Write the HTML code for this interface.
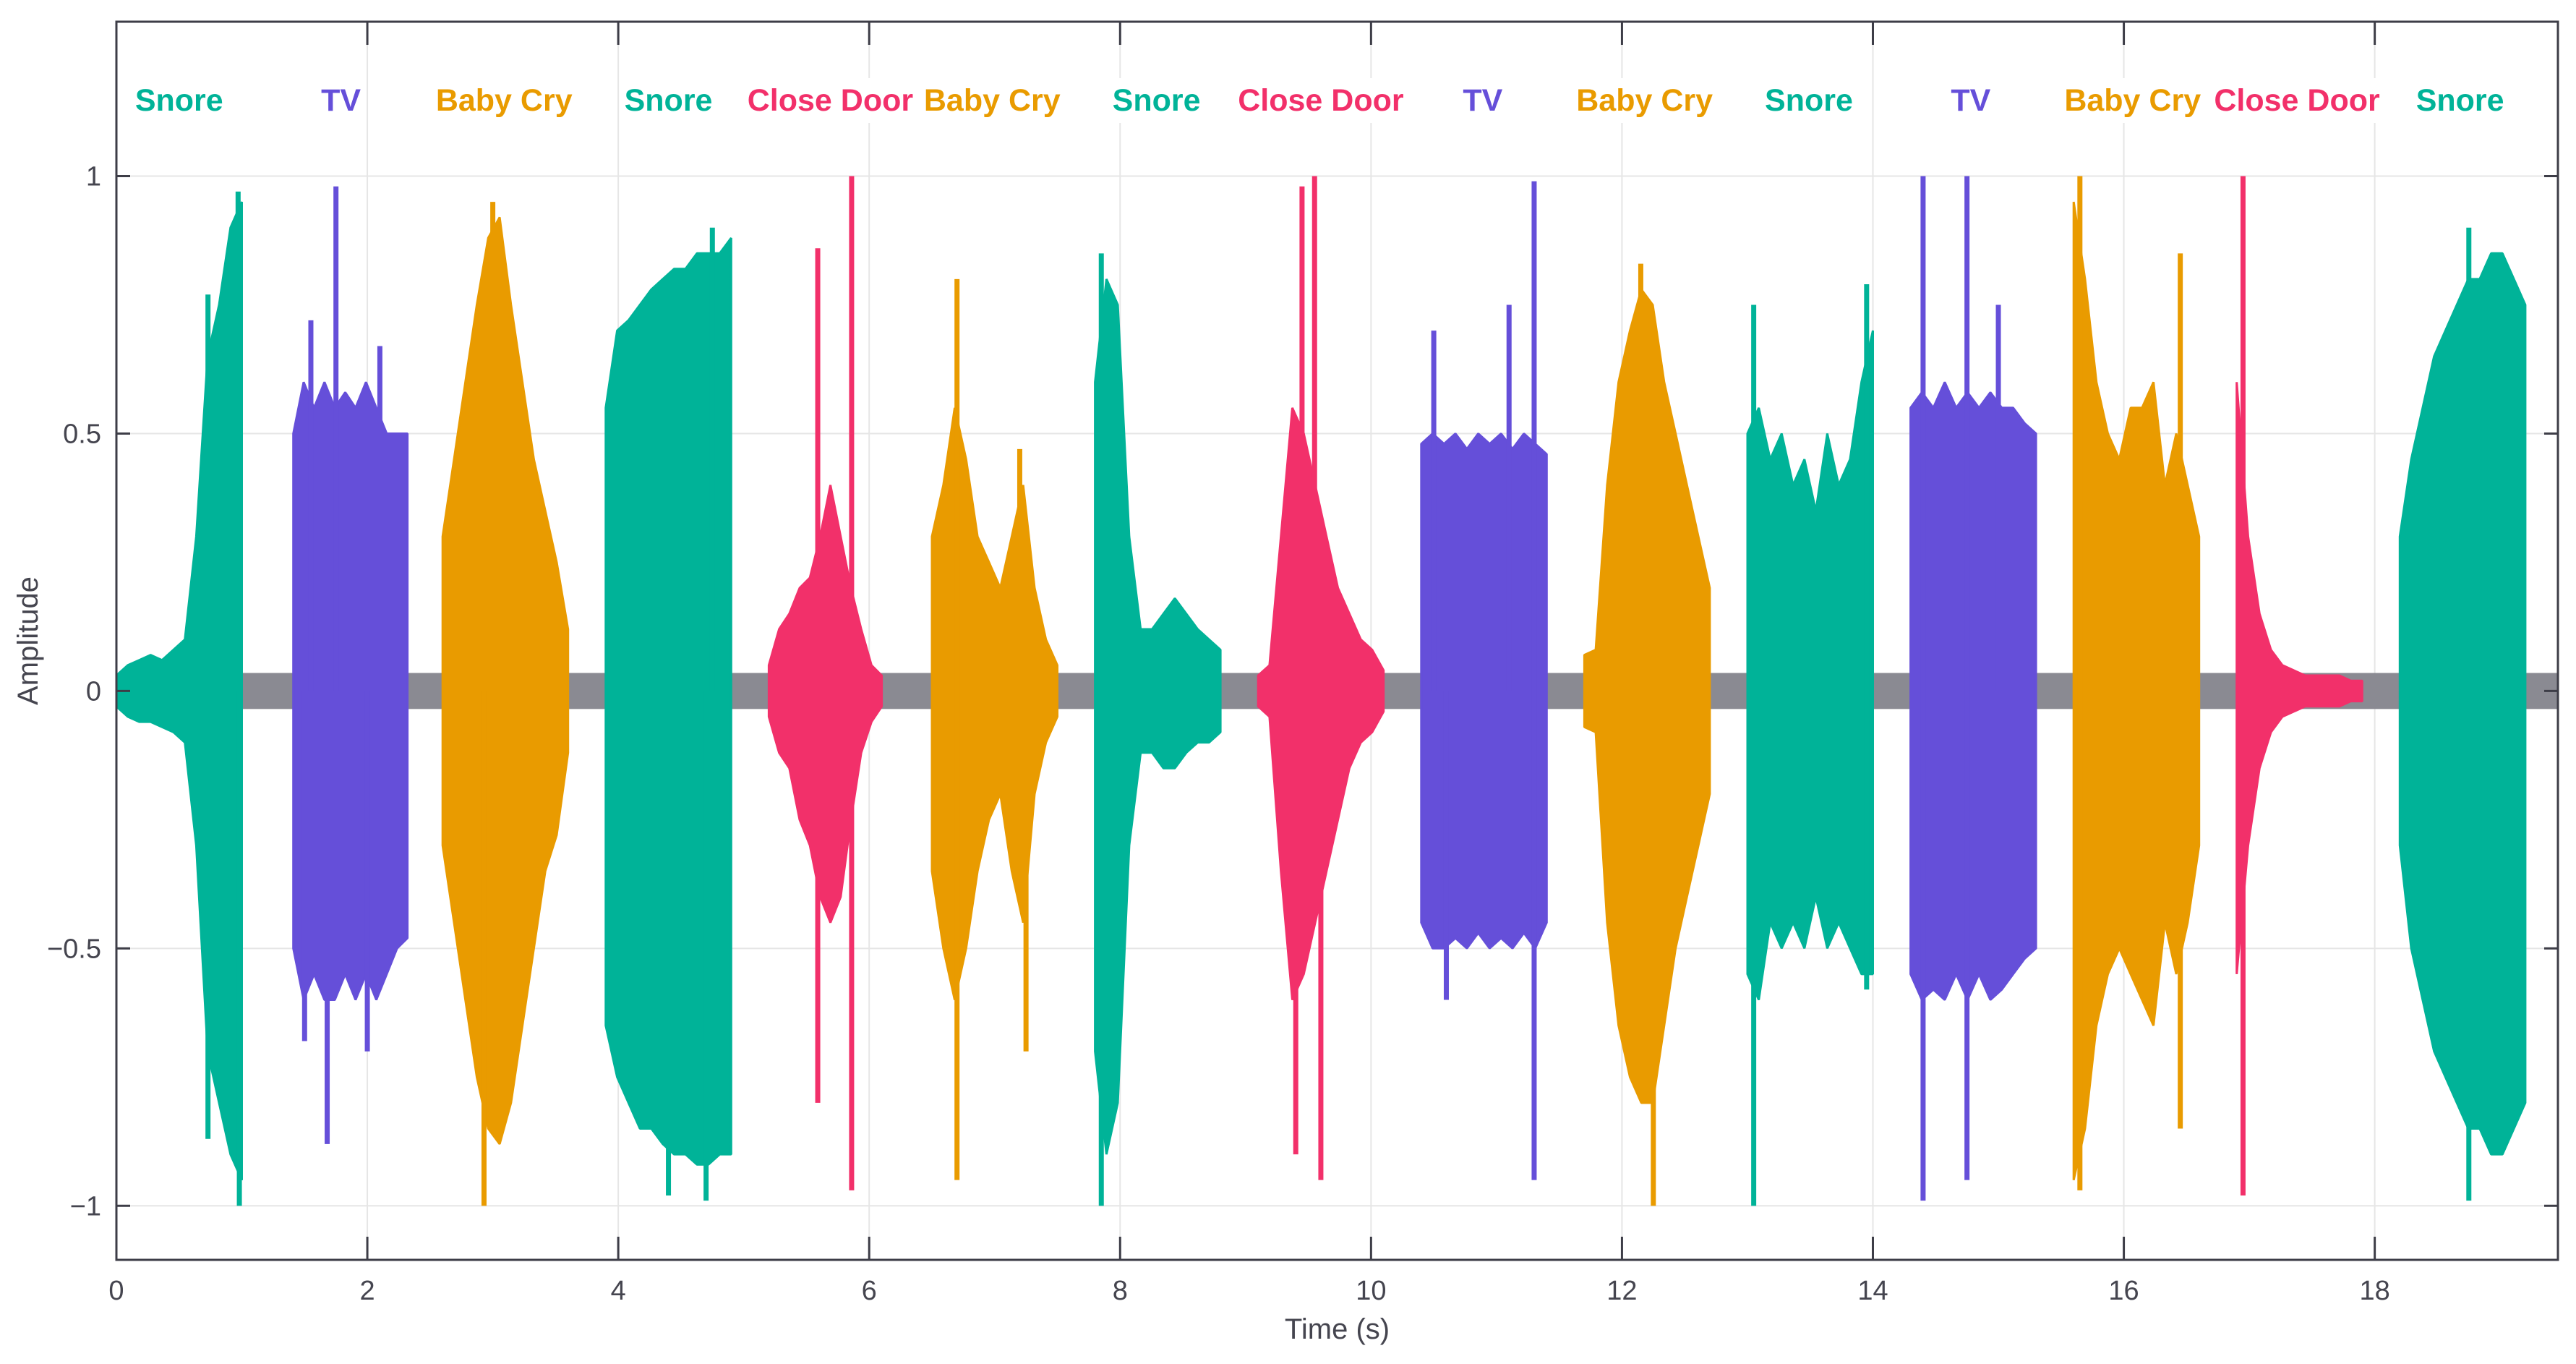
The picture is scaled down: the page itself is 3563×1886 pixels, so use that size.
<!DOCTYPE html>
<html><head><meta charset="utf-8"><style>
html,body{margin:0;padding:0;background:#fff}
svg{display:block}
text{font-family:"Liberation Sans",Arial,sans-serif}
</style></head><body>
<svg id="chart" width="3563" height="1886" viewBox="0 0 3563 1886" xmlns="http://www.w3.org/2000/svg">
<g id="grid"></g>
<g id="marks"></g>
<g id="labels"></g>
<g id="axes"></g>
</svg>
<script>
const xTicks = [0,2,4,6,8,10,12,14,16,18];
const yTicks = [-1,-0.5,0,0.5,1];
const yTickLabels = ["\u22121","\u22120.5","0","0.5","1"];
const segStarts = [0,1.41,2.6,3.9,5.2,6.5,7.8,9.1,10.4,11.7,13.0,14.3,15.6,16.9,18.2];
const segEnds = [1.0,2.32,3.6,4.9,6.1,7.5,8.8,10.1,11.4,12.7,14.0,15.3,16.6,17.9,19.2];
const segClasses = ["Snore","TV","Baby Cry","Snore","Close Door","Baby Cry","Snore","Close Door","TV","Baby Cry","Snore","TV","Baby Cry","Close Door","Snore"];
const labelTimes = [0.5,1.79,3.09,4.4,5.69,6.98,8.29,9.6,10.89,12.18,13.49,14.78,16.07,17.38,18.68];
const segUpper = [
 [0.03,0.05,0.06,0.07,0.06,0.08,0.1,0.3,0.65,0.75,0.9,0.95],
 [0.5,0.6,0.55,0.6,0.55,0.58,0.55,0.6,0.55,0.5,0.5,0.5],
 [0.3,0.45,0.6,0.75,0.88,0.92,0.75,0.6,0.45,0.35,0.25,0.12],
 [0.55,0.7,0.72,0.75,0.78,0.8,0.82,0.82,0.85,0.85,0.85,0.88],
 [0.05,0.12,0.15,0.2,0.22,0.3,0.4,0.3,0.2,0.12,0.05,0.03],
 [0.3,0.4,0.55,0.45,0.3,0.25,0.2,0.3,0.4,0.2,0.1,0.05],
 [0.6,0.8,0.75,0.3,0.12,0.12,0.15,0.18,0.15,0.12,0.1,0.08],
 [0.03,0.05,0.3,0.55,0.5,0.4,0.3,0.2,0.15,0.1,0.08,0.04],
 [0.48,0.5,0.48,0.5,0.47,0.5,0.48,0.5,0.47,0.5,0.48,0.46],
 [0.07,0.08,0.4,0.6,0.7,0.78,0.75,0.6,0.5,0.4,0.3,0.2],
 [0.5,0.55,0.45,0.5,0.4,0.45,0.35,0.5,0.4,0.45,0.6,0.7],
 [0.55,0.58,0.55,0.6,0.55,0.58,0.55,0.58,0.55,0.55,0.52,0.5],
 [0.95,0.8,0.6,0.5,0.45,0.55,0.55,0.6,0.4,0.5,0.4,0.3],
 [0.6,0.3,0.15,0.08,0.05,0.04,0.03,0.03,0.03,0.03,0.02,0.02],
 [0.3,0.45,0.55,0.65,0.7,0.75,0.8,0.8,0.85,0.85,0.8,0.75]
];
const segLower = [
 [-0.03,-0.05,-0.06,-0.06,-0.07,-0.08,-0.1,-0.3,-0.7,-0.8,-0.9,-0.95],
 [-0.5,-0.6,-0.55,-0.6,-0.6,-0.55,-0.6,-0.55,-0.6,-0.55,-0.5,-0.48],
 [-0.3,-0.45,-0.6,-0.75,-0.85,-0.88,-0.8,-0.65,-0.5,-0.35,-0.28,-0.12],
 [-0.65,-0.75,-0.8,-0.85,-0.85,-0.88,-0.9,-0.9,-0.92,-0.92,-0.9,-0.9],
 [-0.05,-0.12,-0.15,-0.25,-0.3,-0.4,-0.45,-0.4,-0.25,-0.12,-0.06,-0.03],
 [-0.35,-0.5,-0.6,-0.5,-0.35,-0.25,-0.2,-0.35,-0.45,-0.2,-0.1,-0.05],
 [-0.7,-0.9,-0.8,-0.3,-0.12,-0.12,-0.15,-0.15,-0.12,-0.1,-0.1,-0.08],
 [-0.03,-0.05,-0.35,-0.6,-0.55,-0.45,-0.35,-0.25,-0.15,-0.1,-0.08,-0.04],
 [-0.45,-0.5,-0.5,-0.48,-0.5,-0.47,-0.5,-0.48,-0.5,-0.47,-0.5,-0.45],
 [-0.07,-0.08,-0.45,-0.65,-0.75,-0.8,-0.8,-0.65,-0.5,-0.4,-0.3,-0.2],
 [-0.55,-0.6,-0.45,-0.5,-0.45,-0.5,-0.4,-0.5,-0.45,-0.5,-0.55,-0.55],
 [-0.55,-0.6,-0.58,-0.6,-0.55,-0.6,-0.55,-0.6,-0.58,-0.55,-0.52,-0.5],
 [-0.95,-0.85,-0.65,-0.55,-0.5,-0.55,-0.6,-0.65,-0.45,-0.55,-0.45,-0.3],
 [-0.55,-0.3,-0.15,-0.08,-0.05,-0.04,-0.03,-0.03,-0.03,-0.03,-0.02,-0.02],
 [-0.3,-0.5,-0.6,-0.7,-0.75,-0.8,-0.85,-0.85,-0.9,-0.9,-0.85,-0.8]
];
const spikeTimes = [0.73,0.73,0.98,0.97, 1.75,1.68,1.55,2.1,1.5,2.0, 2.93,3.0, 4.75,4.4,4.7, 5.59,5.59,5.86,5.86, 6.7,6.7,7.2,7.25, 7.85,7.85, 9.45,9.55,9.4,9.6, 11.3,11.3,10.5,11.1,10.6, 12.25,12.15, 13.05,13.05,13.95,13.95, 14.4,14.4,14.75,14.75,15.0, 15.65,15.65,16.45,16.45, 16.95,16.95, 18.75,18.75];
const spikeValues = [0.77,-0.87,-1.0,0.97, 0.98,-0.88,0.72,0.67,-0.68,-0.7, -1.0,0.95, 0.9,-0.98,-0.99, 0.86,-0.8,1.0,-0.97, 0.8,-0.95,0.47,-0.7, 0.85,-1.0, 0.98,1.0,-0.9,-0.95, 0.99,-0.95,0.7,0.75,-0.6, -1.0,0.83, 0.75,-1.0,0.79,-0.58, 1.0,-0.99,1.0,-0.95,0.75, 1.0,-0.97,0.85,-0.85, 1.0,-0.98, 0.9,-0.99];
const spikeSeg = [0,0,0,0, 1,1,1,1,1,1, 2,2, 3,3,3, 4,4,4,4, 5,5,5,5, 6,6, 7,7,7,7, 8,8,8,8,8, 9,9, 10,10,10,10, 11,11,11,11,11, 12,12,12,12, 13,13, 14,14];
const noiseLevel = 0.035;

const classColors = {"Snore":"#00b398","TV":"#654fd9","Baby Cry":"#e99b00","Close Door":"#f2306a"};
const L=161,R=3538,T=30,B=1742,XMIN=0,XMAX=19.46,YMIN=-1.105,YMAX=1.3;
const sx=t=>L+(t-XMIN)/(XMAX-XMIN)*(R-L);
const sy=v=>B-(v-YMIN)/(YMAX-YMIN)*(B-T);
const NS="http://www.w3.org/2000/svg";
function mk(tag,attrs,parent){const e=document.createElementNS(NS,tag);for(const k in attrs)e.setAttribute(k,attrs[k]);parent.appendChild(e);return e;}
const grid=document.getElementById('grid'),marks=document.getElementById('marks'),labels=document.getElementById('labels'),axes=document.getElementById('axes');

xTicks.forEach(t=>{const l=mk('line',{x1:sx(t),x2:sx(t),y1:T,y2:B,stroke:'#e6e6e6','stroke-width':2},grid);});
yTicks.forEach(v=>{const l=mk('line',{x1:L,x2:R,y1:sy(v),y2:sy(v),stroke:'#e6e6e6','stroke-width':2},grid);});

const nb=mk('rect',{x:sx(0),y:sy(noiseLevel),width:sx(XMAX)-sx(0),height:sy(-noiseLevel)-sy(noiseLevel),fill:'#8a8a92'},marks);



segStarts.forEach((s,i)=>{
  const e=segEnds[i],up=segUpper[i],lo=segLower[i],n=up.length,col=classColors[segClasses[i]];
  let pts=[];
  for(let k=0;k<n;k++){const t=s+(e-s)*k/(n-1);pts.push(sx(t).toFixed(1)+','+sy(up[k]).toFixed(1));}
  for(let k=n-1;k>=0;k--){const t=s+(e-s)*k/(n-1);pts.push(sx(t).toFixed(1)+','+sy(lo[k]).toFixed(1));}
  const p=mk('polygon',{points:pts.join(' '),fill:col,stroke:col,'stroke-width':3,'stroke-linejoin':'bevel'},marks);
  
  
});
spikeTimes.forEach((t,i)=>{
  const col=classColors[segClasses[spikeSeg[i]]];
  const l=mk('line',{x1:sx(t),x2:sx(t),y1:sy(0),y2:sy(spikeValues[i]),stroke:col,'stroke-width':7},marks);
  
  
});

labelTimes.forEach((t,i)=>{
  const g=mk('g',{},labels);
  
  
  const tx=mk('text',{x:sx(t),y:153,'text-anchor':'middle','font-size':43,'font-weight':'bold',fill:classColors[segClasses[i]]},g);
  tx.textContent=segClasses[i];
  const w=tx.getComputedTextLength();
  const r=document.createElementNS(NS,'rect');
  r.setAttribute('x',sx(t)-w/2-4);r.setAttribute('y',108);r.setAttribute('width',w+8);r.setAttribute('height',62);r.setAttribute('fill','#fff');
  g.insertBefore(r,tx);
});

const box=mk('rect',{x:L,y:T,width:R-L,height:B-T,fill:'none',stroke:'#3d3d47','stroke-width':3},axes);


xTicks.forEach(t=>{
  mk('line',{x1:sx(t),x2:sx(t),y1:B,y2:B-32,stroke:'#3d3d47','stroke-width':3},axes);
  mk('line',{x1:sx(t),x2:sx(t),y1:T,y2:T+32,stroke:'#3d3d47','stroke-width':3},axes);
  const tx=mk('text',{x:sx(t),y:1797,'text-anchor':'middle','font-size':38,fill:'#45454f'},axes);
  
  
  tx.textContent=String(t);
});
yTicks.forEach((v,i)=>{
  mk('line',{x1:L,x2:L+19,y1:sy(v),y2:sy(v),stroke:'#3d3d47','stroke-width':3},axes);
  mk('line',{x1:R,x2:R-19,y1:sy(v),y2:sy(v),stroke:'#3d3d47','stroke-width':3},axes);
  const tx=mk('text',{x:140,y:sy(v)+13,'text-anchor':'end','font-size':38,fill:'#45454f'},axes);
  
  
  tx.textContent=yTickLabels[i];
});
const xl=mk('text',{x:(L+R)/2,y:1851,'text-anchor':'middle','font-size':40,fill:'#45454f'},axes);


xl.textContent='Time (s)';
const yl=mk('text',{x:0,y:0,'text-anchor':'middle','font-size':40,fill:'#45454f',transform:'translate(52,'+((T+B)/2)+') rotate(-90)'},axes);


yl.textContent='Amplitude';
</script>
</body></html>
